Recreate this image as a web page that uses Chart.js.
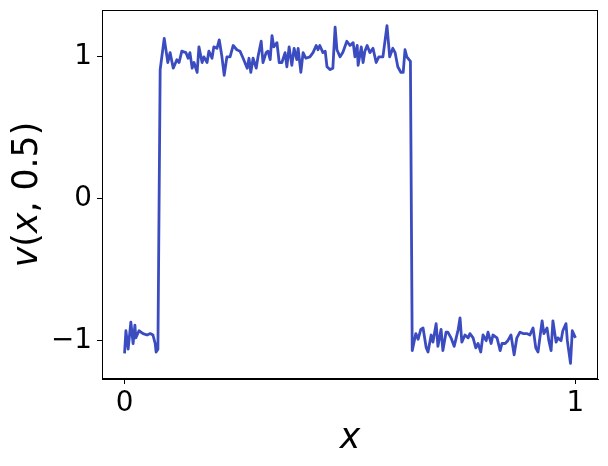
<!DOCTYPE html>
<html>
<head>
<meta charset="utf-8">
<script src="https://cdn.jsdelivr.net/npm/chart.js@4/dist/chart.umd.min.js"></script>
<style>
  html, body { margin: 0; padding: 0; background: #fff; }
  #wrap { width: 608px; height: 466px; }
</style>
</head>
<body>
<div id="wrap"><canvas id="chart" width="608" height="466"></canvas></div>
<script>
var xs = [
  0.000, 0.003, 0.008, 0.014, 0.019, 0.023, 0.025, 0.032, 0.041, 0.050,
  0.057, 0.063, 0.068, 0.070, 0.074, 0.079, 0.088, 0.096, 0.101, 0.108,
  0.116, 0.121, 0.127, 0.136, 0.141, 0.145, 0.150, 0.154, 0.161, 0.165,
  0.172, 0.176, 0.183, 0.187, 0.194, 0.198, 0.205, 0.210, 0.216, 0.221,
  0.227, 0.234, 0.241, 0.249, 0.256, 0.263, 0.272, 0.276, 0.280, 0.285,
  0.292, 0.296, 0.303, 0.307, 0.314, 0.318, 0.323, 0.327, 0.331, 0.338,
  0.343, 0.349, 0.356, 0.360, 0.365, 0.371, 0.376, 0.382, 0.385, 0.391,
  0.396, 0.402, 0.411, 0.418, 0.425, 0.429, 0.433, 0.440, 0.445, 0.449,
  0.456, 0.462, 0.467, 0.471, 0.478, 0.484, 0.493, 0.500, 0.507, 0.511,
  0.516, 0.518, 0.525, 0.529, 0.533, 0.538, 0.544, 0.551, 0.558, 0.564,
  0.573, 0.582, 0.588, 0.595, 0.600, 0.606, 0.613, 0.618, 0.622, 0.626,
  0.631, 0.634, 0.638, 0.646, 0.651, 0.657, 0.662, 0.669, 0.673, 0.680,
  0.684, 0.691, 0.695, 0.702, 0.706, 0.713, 0.717, 0.724, 0.731, 0.740,
  0.744, 0.748, 0.755, 0.762, 0.766, 0.773, 0.779, 0.784, 0.790, 0.795,
  0.802, 0.806, 0.813, 0.817, 0.826, 0.833, 0.837, 0.844, 0.850, 0.857,
  0.864, 0.870, 0.877, 0.884, 0.892, 0.899, 0.906, 0.912, 0.917, 0.926,
  0.930, 0.937, 0.941, 0.946, 0.950, 0.957, 0.961, 0.968, 0.972, 0.979,
  0.982, 0.989, 0.993, 1.000
];
var vs = [
  -1.09, -0.93, -1.06, -0.87, -1.02, -0.89, -0.98, -0.93, -0.95, -0.96,
  -0.95, -0.96, -1.02, -1.08, -1.06, 0.91, 1.13, 0.96, 1.03, 0.92,
  0.98, 0.96, 1.04, 1.03, 0.99, 1.03, 0.92, 0.96, 0.89, 1.07,
  0.96, 1.00, 0.96, 1.04, 0.99, 1.07, 1.06, 1.12, 1.00, 0.87,
  1.00, 1.00, 1.08, 1.05, 1.04, 0.99, 0.92, 0.99, 0.89, 0.99,
  0.92, 1.00, 1.11, 0.96, 1.03, 1.04, 0.98, 1.15, 1.07, 1.10,
  0.96, 0.96, 1.03, 0.93, 1.07, 0.94, 1.06, 0.98, 1.06, 0.89,
  1.03, 0.99, 1.00, 1.03, 1.08, 1.05, 1.08, 1.03, 1.04, 0.93,
  0.91, 0.92, 1.21, 1.05, 1.00, 1.03, 1.11, 1.08, 1.10, 1.00,
  1.08, 0.94, 1.07, 0.96, 1.04, 1.08, 1.03, 1.06, 0.96, 1.00,
  1.00, 1.22, 1.00, 1.06, 1.03, 0.93, 0.89, 0.89, 1.05, 1.00,
  0.98, 0.97, -1.07, -0.95, -0.99, -0.92, -0.91, -1.05, -1.08, -0.96,
  -1.01, -0.88, -1.04, -0.92, -1.07, -0.94, -0.94, -0.98, -1.04, -0.92,
  -0.84, -1.01, -0.96, -0.98, -0.95, -0.98, -1.05, -1.02, -1.08, -0.96,
  -1.00, -0.94, -1.02, -0.96, -0.98, -1.07, -1.02, -1.02, -1.00, -0.96,
  -1.10, -0.98, -0.94, -0.95, -0.95, -0.96, -0.91, -1.05, -1.08, -0.86,
  -0.95, -0.91, -1.00, -1.07, -0.86, -1.01, -0.98, -1.00, -0.93, -0.88,
  -1.00, -1.16, -0.93, -0.98
];
var xTicks = [0, 1];
var yTicks = [-1, 0, 1];
var xLabel = [['x', 'italic']];
var yLabel = [['v', 'italic'], ['(', 'normal'], ['x', 'italic'], [', 0.5)', 'normal']];

(function () {
  var tickFont = { family: 'DejaVu Sans', size: 27.8 };
  var titleSize = 34.7;

  function fmt(v) {
    return v < 0 ? '\u2212' + Math.abs(v) : String(v);
  }

  // draws a label made of italic / upright pieces, centred on (cx, cy)
  function drawLabel(ctx, parts, cx, cy, rot) {
    ctx.save();
    ctx.translate(cx, cy);
    ctx.rotate(rot);
    ctx.fillStyle = '#000';
    ctx.textBaseline = 'middle';
    ctx.textAlign = 'left';
    var widths = parts.map(function (p) {
      ctx.font = p[1] + ' ' + titleSize + 'px "DejaVu Sans"';
      return ctx.measureText(p[0]).width;
    });
    var total = widths.reduce(function (a, b) { return a + b; }, 0);
    var x = -total / 2;
    parts.forEach(function (p, i) {
      ctx.font = p[1] + ' ' + titleSize + 'px "DejaVu Sans"';
      ctx.fillText(p[0], x, 0);
      x += widths[i];
    });
    ctx.restore();
  }

  var frame = {
    id: 'frame',
    afterDraw: function (chart) {
      var a = chart.chartArea;
      var ctx = chart.ctx;
      ctx.save();
      ctx.strokeStyle = '#000';
      ctx.lineWidth = 1;
      ctx.strokeRect(a.left + 0.5, a.top + 0.5, a.right - a.left - 1, a.bottom - a.top - 1);
      ctx.restore();
      drawLabel(ctx, xLabel, (a.left + a.right) / 2, 439, 0);
      drawLabel(ctx, yLabel, 28, (a.top + a.bottom) / 2, -Math.PI / 2);
    }
  };

  var chart = new Chart(document.getElementById('chart'), {
    type: 'line',
    data: {
      datasets: [
        {
          data: xs.map(function (x, i) { return { x: x, y: vs[i] }; }),
          borderColor: '#3b4cc0',
          borderWidth: 2.8,
          borderJoinStyle: 'round',
          borderCapStyle: 'butt',
          pointRadius: 0,
          fill: false,
          tension: 0
        }
      ]
    },
    plugins: [frame],
    options: {
      responsive: false,
      animation: false,
      layout: { padding: { top: 10, right: 10, left: 0, bottom: 0 } },
      plugins: {
        legend: { display: false },
        tooltip: { enabled: false }
      },
      scales: {
        x: {
          type: 'linear',
          min: -0.05,
          max: 1.05,
          afterBuildTicks: function (scale) {
            scale.ticks = xTicks.map(function (v) { return { value: v }; });
          },
          afterFit: function (scale) {
            scale.height = 87;
            scale.paddingLeft = 0;
            scale.paddingRight = 0;
          },
          grid: { drawOnChartArea: false, drawTicks: true, tickLength: 5, tickColor: '#000' },
          border: { display: true, color: '#000' },
          ticks: { color: '#000', font: tickFont, padding: 3, maxRotation: 0, callback: fmt }
        },
        y: {
          type: 'linear',
          min: -1.27,
          max: 1.33,
          afterBuildTicks: function (scale) {
            scale.ticks = yTicks.map(function (v) { return { value: v }; });
          },
          afterFit: function (scale) {
            scale.width = 102;
            scale.paddingTop = 0;
            scale.paddingBottom = 0;
          },
          grid: { drawOnChartArea: false, drawTicks: true, tickLength: 5, tickColor: '#000' },
          border: { display: true, color: '#000' },
          ticks: { color: '#000', font: tickFont, padding: 5, callback: fmt }
        }
      }
    }
  });
})();
</script>
</body>
</html>
